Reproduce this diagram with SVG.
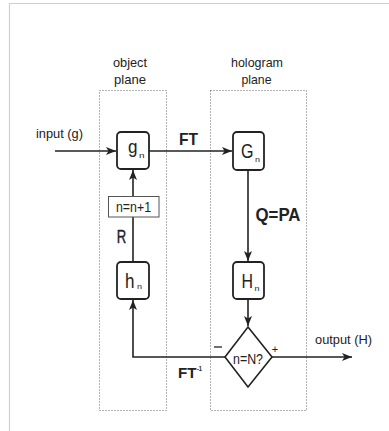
<svg xmlns="http://www.w3.org/2000/svg" width="389" height="431" viewBox="0 0 389 431">
<defs>
<marker id="ah" markerUnits="userSpaceOnUse" markerWidth="12" markerHeight="10" refX="10" refY="4.5" orient="auto">
<path d="M0,0.5 L10,4.5 L0,8.5 L2.5,4.5 z" fill="#222"/>
</marker>
<style>
.t{font-family:"Liberation Sans",Arial,sans-serif;fill:#222}
.b{font-weight:bold}
.ln{fill:none;stroke:#222;stroke-width:1.6}
.box{fill:#fff;stroke:#222;stroke-width:1.8}
.plane{fill:none;stroke:#666;stroke-width:1;stroke-dasharray:1,2}
</style>
</defs>
<rect width="389" height="431" fill="#fff"/>
<path d="M9.5,431 V3.5 H389" fill="none" stroke="#cfcfcf" stroke-width="1.2"/>

<g id="object-plane">
<rect class="plane" x="99.5" y="90.5" width="67" height="320"/>
<text class="t" x="130" y="67" font-size="13.5" text-anchor="middle" textLength="34" lengthAdjust="spacingAndGlyphs">object</text>
<text class="t" x="130" y="84" font-size="13.5" text-anchor="middle" textLength="32" lengthAdjust="spacingAndGlyphs">plane</text>
</g>
<g id="hologram-plane">
<rect class="plane" x="210.5" y="90.5" width="96" height="320"/>
<text class="t" x="257" y="67" font-size="13.5" text-anchor="middle" textLength="52" lengthAdjust="spacingAndGlyphs">hologram</text>
<text class="t" x="256.5" y="84" font-size="13.5" text-anchor="middle" textLength="30" lengthAdjust="spacingAndGlyphs">plane</text>
</g>

<g id="connectors">
<line class="ln" x1="55" y1="151" x2="116" y2="151" marker-end="url(#ah)"/>
<line class="ln" x1="149" y1="151" x2="232" y2="151" marker-end="url(#ah)"/>
<line class="ln" x1="248" y1="170" x2="248" y2="261" marker-end="url(#ah)"/>
<line class="ln" x1="248" y1="299" x2="248" y2="326" marker-end="url(#ah)"/>
<line class="ln" x1="272" y1="357" x2="352" y2="357" marker-end="url(#ah)"/>
<polyline class="ln" points="225,357 133,357 133,300" marker-end="url(#ah)"/>
<line class="ln" x1="133" y1="262" x2="133" y2="217"/>
<line class="ln" x1="133" y1="196" x2="133" y2="170" marker-end="url(#ah)"/>
<text class="t" x="59.5" y="138" font-size="13.5" text-anchor="middle" textLength="47" lengthAdjust="spacingAndGlyphs">input (g)</text>
<text class="t b" x="188.5" y="145" font-size="16.5" text-anchor="middle" textLength="19" lengthAdjust="spacingAndGlyphs">FT</text>
<text class="t b" x="278" y="221" font-size="19" text-anchor="middle" textLength="45" lengthAdjust="spacingAndGlyphs">Q=PA</text>
<text class="t" x="121.5" y="242.5" font-size="18" text-anchor="middle" textLength="9.5" lengthAdjust="spacingAndGlyphs" stroke="#222" stroke-width="0.4">R</text>
<text class="t b" x="178" y="377.5" font-size="14.5" textLength="18.5" lengthAdjust="spacingAndGlyphs">FT</text>
<text class="t b" x="197" y="371" font-size="6.5" textLength="5" lengthAdjust="spacingAndGlyphs">-1</text>
<text class="t" x="343.5" y="344" font-size="13.5" text-anchor="middle" textLength="57" lengthAdjust="spacingAndGlyphs">output (H)</text>
<text class="t" x="275" y="353" font-size="11" text-anchor="middle">+</text>
<line x1="214" y1="347" x2="222" y2="347" stroke="#222" stroke-width="1.3"/>
</g>

<g id="g_n">
<rect class="box" x="117" y="132" width="32" height="37" rx="4"/>
<text class="t" x="128" y="153" font-size="18" textLength="9.5" lengthAdjust="spacingAndGlyphs">g</text>
<text class="t" x="139" y="158" font-size="8" textLength="5.5" lengthAdjust="spacingAndGlyphs">n</text>
</g>
<g id="G_n">
<rect class="box" x="233" y="132" width="31" height="38" rx="4"/>
<text class="t" x="241" y="158" font-size="20" textLength="12.5" lengthAdjust="spacingAndGlyphs">G</text>
<text class="t" x="255" y="161.5" font-size="8" textLength="5" lengthAdjust="spacingAndGlyphs">n</text>
</g>
<g id="H_n">
<rect class="box" x="233" y="262" width="31" height="37" rx="4"/>
<text class="t" x="241.5" y="288" font-size="20" textLength="11.5" lengthAdjust="spacingAndGlyphs">H</text>
<text class="t" x="254.5" y="291" font-size="8" textLength="5" lengthAdjust="spacingAndGlyphs">n</text>
</g>
<g id="h_n">
<rect class="box" x="117" y="262" width="32" height="37" rx="4"/>
<text class="t" x="125" y="288" font-size="21" textLength="9.5" lengthAdjust="spacingAndGlyphs">h</text>
<text class="t" x="137" y="289" font-size="8" textLength="5" lengthAdjust="spacingAndGlyphs">n</text>
</g>
<g id="increment">
<rect x="108.5" y="196.5" width="50.5" height="20.5" fill="#fff" stroke="#555" stroke-width="1"/>
<text class="t" x="133.5" y="211.5" font-size="15" text-anchor="middle" textLength="35" lengthAdjust="spacingAndGlyphs">n=n+1</text>
</g>
<g id="decision">
<polygon points="248,327 272,357 248,387 225,357" fill="#fff" stroke="#222" stroke-width="1.6"/>
<text class="t" x="248" y="364" font-size="14.5" text-anchor="middle" textLength="30" lengthAdjust="spacingAndGlyphs">n=N?</text>
</g>
</svg>
